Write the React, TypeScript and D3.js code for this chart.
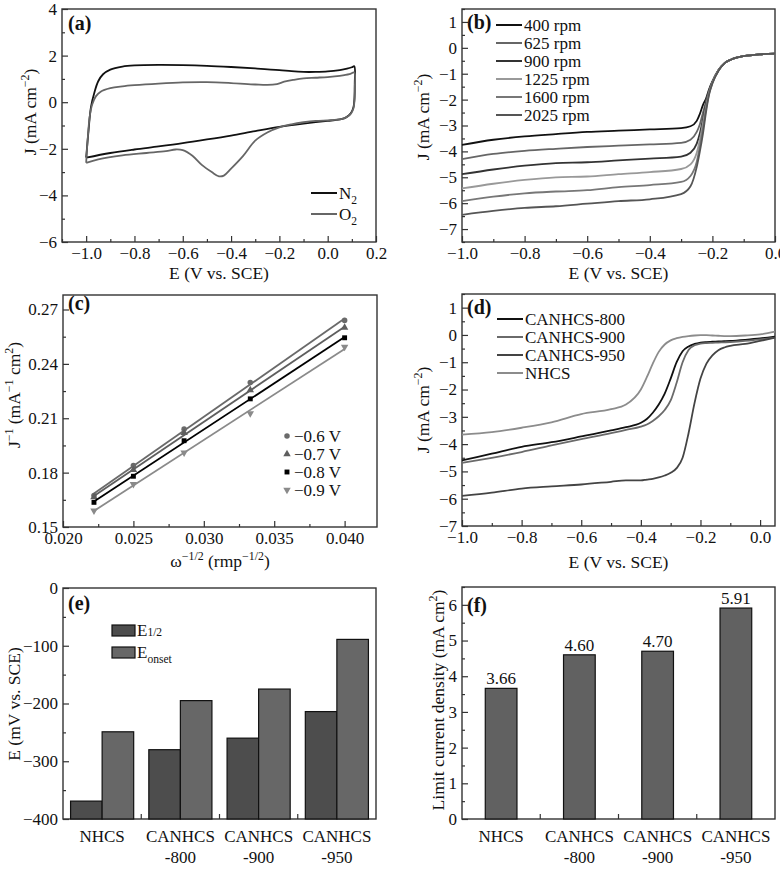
import * as d3 from "d3";
import { useEffect, useRef } from "react";

const FONT = "'Liberation Serif', 'Times New Roman', serif";

// (a) cyclic voltammograms, [E, J] in sweep order
const cvN2 = [
  [-1.0, -2.38], [-0.99, -1.2], [-0.98, -0.2], [-0.965, 0.45], [-0.95, 0.9], [-0.93, 1.2], [-0.9, 1.4],
  [-0.85, 1.53], [-0.8, 1.58], [-0.7, 1.6], [-0.6, 1.59], [-0.5, 1.56], [-0.4, 1.51], [-0.3, 1.45],
  [-0.2, 1.38], [-0.15, 1.33], [-0.1, 1.3], [-0.05, 1.3], [0.0, 1.32], [0.05, 1.38], [0.08, 1.44],
  [0.1, 1.5], [0.11, 1.54], [0.112, 0.8], [0.111, 0.2], [0.107, -0.2], [0.097, -0.45], [0.08, -0.62],
  [0.06, -0.72], [0.03, -0.77], [0.0, -0.8], [-0.1, -0.92], [-0.2, -1.06], [-0.3, -1.24], [-0.4, -1.43],
  [-0.5, -1.6], [-0.6, -1.76], [-0.7, -1.9], [-0.8, -2.03], [-0.9, -2.18], [-1.0, -2.38],
];
const cvO2 = [
  [-1.0, -2.6], [-0.993, -1.5], [-0.985, -0.6], [-0.975, -0.1], [-0.96, 0.25], [-0.94, 0.45], [-0.9, 0.6],
  [-0.85, 0.68], [-0.8, 0.73], [-0.7, 0.8], [-0.6, 0.85], [-0.5, 0.86], [-0.4, 0.82], [-0.3, 0.76],
  [-0.25, 0.74], [-0.21, 0.78], [-0.18, 0.88], [-0.14, 0.96], [-0.1, 1.02], [-0.05, 1.05], [0.0, 1.08],
  [0.05, 1.13], [0.09, 1.2], [0.11, 1.27], [0.112, 0.6], [0.111, 0.1], [0.107, -0.25], [0.097, -0.48],
  [0.08, -0.63], [0.06, -0.72], [0.03, -0.76], [0.0, -0.78], [-0.05, -0.8], [-0.1, -0.86], [-0.15, -0.95],
  [-0.2, -1.08], [-0.25, -1.3], [-0.3, -1.65], [-0.35, -2.3], [-0.4, -2.85], [-0.43, -3.15], [-0.45, -3.18],
  [-0.48, -3.0], [-0.52, -2.7], [-0.56, -2.3], [-0.6, -2.06], [-0.63, -2.03], [-0.67, -2.1], [-0.75, -2.18],
  [-0.85, -2.28], [-0.95, -2.45], [-1.0, -2.6],
];

// (b) LSV at different rotation rates
const lsvE = [-1.0, -0.9, -0.8, -0.7, -0.6, -0.5, -0.4, -0.3, -0.27, -0.25, -0.24, -0.23, -0.22, -0.21, -0.2, -0.18, -0.16, -0.14, -0.12, -0.1, -0.05, 0.0];
const rpm400 = [-3.75, -3.55, -3.42, -3.33, -3.25, -3.2, -3.15, -3.1, -3.03, -2.82, -2.55, -2.2, -1.95, -1.58, -1.3, -0.85, -0.58, -0.45, -0.37, -0.32, -0.25, -0.22];
const rpm625 = [-4.3, -4.1, -3.98, -3.9, -3.83, -3.78, -3.73, -3.67, -3.55, -3.25, -2.95, -2.5, -2.05, -1.62, -1.31, -0.85, -0.58, -0.45, -0.37, -0.32, -0.25, -0.22];
const rpm900 = [-4.88, -4.7, -4.55, -4.45, -4.42, -4.35, -4.28, -4.2, -4.05, -3.7, -3.3, -2.75, -2.15, -1.66, -1.32, -0.86, -0.58, -0.45, -0.37, -0.32, -0.25, -0.22];
const rpm1225 = [-5.43, -5.25, -5.1, -5.0, -4.97, -4.88, -4.8, -4.68, -4.5, -4.05, -3.55, -2.9, -2.25, -1.7, -1.34, -0.86, -0.58, -0.45, -0.37, -0.32, -0.25, -0.22];
const rpm1600 = [-5.92, -5.75, -5.62, -5.55, -5.5, -5.38, -5.3, -5.18, -4.95, -4.4, -3.8, -3.1, -2.35, -1.74, -1.36, -0.87, -0.58, -0.45, -0.37, -0.32, -0.25, -0.22];
const rpm2025 = [-6.45, -6.3, -6.18, -6.12, -6.02, -5.92, -5.85, -5.65, -5.35, -4.6, -4.0, -3.3, -2.45, -1.78, -1.38, -0.88, -0.58, -0.45, -0.37, -0.32, -0.25, -0.22];
const rpmLabels = ["400 rpm", "625 rpm", "900 rpm", "1225 rpm", "1600 rpm", "2025 rpm"];

// (c) Koutecky-Levich points
const klX = [0.0222, 0.025, 0.0286, 0.0333, 0.04];
const kl06 = [0.1674, 0.1839, 0.204, 0.2297, 0.264];
const kl07 = [0.1665, 0.1815, 0.202, 0.2255, 0.26];
const kl08 = [0.1636, 0.178, 0.1976, 0.2207, 0.2544];
const kl09 = [0.159, 0.1736, 0.191, 0.2127, 0.2493];
const klLabels = ["\u22120.6 V", "\u22120.7 V", "\u22120.8 V", "\u22120.9 V"];

// (d) LSV of the samples
const ldE = [-1.0, -0.9, -0.8, -0.7, -0.6, -0.5, -0.45, -0.4, -0.38, -0.36, -0.34, -0.32, -0.3, -0.28, -0.26, -0.24, -0.22, -0.2, -0.18, -0.16, -0.14, -0.12, -0.1, -0.05, 0.0, 0.05];
const ld800 = [-4.6, -4.35, -4.1, -3.93, -3.72, -3.5, -3.38, -3.22, -3.08, -2.85, -2.55, -2.15, -1.6, -1.0, -0.6, -0.42, -0.33, -0.28, -0.26, -0.25, -0.24, -0.23, -0.22, -0.18, -0.13, -0.06];
const ld900 = [-4.69, -4.5, -4.29, -4.05, -3.82, -3.6, -3.48, -3.36, -3.28, -3.15, -2.98, -2.75, -2.4, -1.75, -1.0, -0.55, -0.38, -0.32, -0.3, -0.29, -0.28, -0.27, -0.26, -0.22, -0.16, -0.1];
const ld950 = [-5.9, -5.78, -5.63, -5.55, -5.48, -5.38, -5.33, -5.33, -5.3, -5.27, -5.22, -5.15, -5.05, -4.88, -4.5, -3.6, -2.5, -1.6, -1.05, -0.75, -0.56, -0.46, -0.4, -0.33, -0.22, -0.1];
const ldNHCS = [-3.65, -3.56, -3.4, -3.2, -2.9, -2.72, -2.55, -2.0, -1.55, -1.05, -0.62, -0.35, -0.2, -0.12, -0.07, -0.04, -0.02, -0.01, -0.01, -0.02, -0.03, -0.04, -0.04, -0.02, 0.02, 0.12];
const ldLabels = ["CANHCS-800", "CANHCS-900", "CANHCS-950", "NHCS"];

// (e) and (f)
const samples = ["NHCS", "CANHCS-800", "CANHCS-900", "CANHCS-950"];
const eHalf = [-369, -280, -260, -214];
const eOnset = [-249, -195, -175, -89];
const limitJ = [3.66, 4.6, 4.7, 5.91];

function rich(text, parts, size) {
  let shift = 0;
  parts.forEach(([s, k]) => {
    const target = k === "sup" ? -0.38 * size : k === "sub" ? 0.3 * size : 0;
    const fs = k ? 0.68 * size : size;
    text.append("tspan").attr("dy", target - shift).attr("font-size", fs).text(s);
    shift = target;
  });
}

function steps(a, b, s) {
  const out = [];
  for (let v = a; v <= b + s * 1e-3; v += s) out.push(+v.toFixed(6));
  return out;
}

function frame(svg, x, y, o) {
  const [x0, x1] = x.range();
  const [y1, y0] = y.range();
  const g = svg.append("g").attr("font-family", FONT);
  const style = (s) => {
    s.select(".domain").remove();
    s.attr("font-family", FONT).attr("font-size", 17);
    s.selectAll("line").attr("stroke", "#333").attr("stroke-width", 1.2);
    s.selectAll("text").attr("fill", "#111");
  };
  const isMajor = (list) => (v) => !list.some((m) => Math.abs(m - v) < 1e-9);
  if (o.xMajor) {
    g.append("g").attr("transform", `translate(0,${y1})`)
      .call(d3.axisBottom(x).tickValues(o.xMinor.filter(isMajor(o.xMajor))).tickFormat(() => "").tickSizeInner(-3).tickSizeOuter(0))
      .call(style);
    g.append("g").attr("transform", `translate(0,${y1})`)
      .call(d3.axisBottom(x).tickValues(o.xMajor).tickFormat(o.xFmt).tickSizeInner(-6).tickSizeOuter(0).tickPadding(5))
      .call(style);
  }
  g.append("g").attr("transform", `translate(${x0},0)`)
    .call(d3.axisLeft(y).tickValues(o.yMinor.filter(isMajor(o.yMajor))).tickFormat(() => "").tickSizeInner(-3).tickSizeOuter(0))
    .call(style);
  g.append("g").attr("transform", `translate(${x0},0)`)
    .call(d3.axisLeft(y).tickValues(o.yMajor).tickFormat(o.yFmt).tickSizeInner(-6).tickSizeOuter(0).tickPadding(5))
    .call(style);
  g.append("rect").attr("x", x0).attr("y", y0).attr("width", x1 - x0).attr("height", y1 - y0)
    .attr("fill", "none").attr("stroke", "#333").attr("stroke-width", 1.4);
  // panel letter
  g.append("text").attr("x", o.tag[1]).attr("y", o.tag[2]).attr("font-size", 20).attr("font-weight", "bold")
    .attr("fill", "#111").text(o.tag[0]);
  // axis titles
  if (o.xTitle) {
    const t = g.append("text").attr("x", (x0 + x1) / 2).attr("y", o.xTitleY).attr("text-anchor", "middle")
      .attr("font-size", 17.5).attr("fill", "#111");
    rich(t, o.xTitle, 17.5);
  }
  const t = g.append("text").attr("transform", `translate(${o.yTitleX},${o.yTitleMid}) rotate(-90)`)
    .attr("text-anchor", "middle").attr("font-size", 17.5).attr("fill", "#111");
  rich(t, o.yTitle, 17.5);
  return g;
}

function lineLegend(svg, items, colors, x0, y0, dy, parts) {
  items.forEach((lab, i) => {
    const yy = y0 + i * dy;
    svg.append("line").attr("x1", x0).attr("x2", x0 + 26).attr("y1", yy).attr("y2", yy)
      .attr("stroke", colors[i]).attr("stroke-width", 2);
    const t = svg.append("text").attr("x", x0 + 28).attr("y", yy + 6).attr("font-family", FONT)
      .attr("font-size", 17).attr("fill", "#111");
    rich(t, parts ? parts[i] : [[lab, ""]], 17);
  });
}

const jTitle = [["J (mA cm", ""], ["\u22122", "sup"], [")", ""]];
const eTitle = [["E (V vs. SCE)", ""]];

export default function App() {
  const svgRef = useRef(null);

  useEffect(() => {
    document.body.style.margin = "0";
    const svg = d3.select(svgRef.current);
    svg.selectAll("*").remove();

    // ---------- (a) ----------
    const xa = d3.scaleLinear().domain([-1.1, 0.2]).range([62, 376]);
    const ya = d3.scaleLinear().domain([-6, 4]).range([242, 9]);
    frame(svg, xa, ya, {
      xMajor: steps(-1.0, 0.2, 0.2), xMinor: steps(-1.1, 0.2, 0.1), xFmt: d3.format(".1f"),
      yMajor: steps(-6, 4, 2), yMinor: steps(-6, 4, 1), yFmt: d3.format("d"),
      tag: ["(a)", 68, 30], xTitle: eTitle, xTitleY: 279, yTitle: jTitle, yTitleX: 36, yTitleMid: 112,
    });
    const lineA = d3.line().x((d) => xa(d[0])).y((d) => ya(d[1])).curve(d3.curveCatmullRom.alpha(0.5));
    [[cvN2, "#111"], [cvO2, "#666"]].forEach(([data, c]) => {
      svg.append("path").attr("d", lineA(data)).attr("fill", "none").attr("stroke", c).attr("stroke-width", 1.8);
    });
    lineLegend(svg, ["N2", "O2"], ["#111", "#666"], 311, 193, 21, [[["N", ""], ["2", "sub"]], [["O", ""], ["2", "sub"]]]);

    // ---------- (b) ----------
    const xb = d3.scaleLinear().domain([-1.0, 0.0]).range([462, 775]);
    const yb = d3.scaleLinear().domain([-7.5, 1.5]).range([242, 9]);
    frame(svg, xb, yb, {
      xMajor: steps(-1.0, 0.0, 0.2), xMinor: steps(-1.0, 0.0, 0.1), xFmt: d3.format(".1f"),
      yMajor: steps(-7, 1, 1), yMinor: steps(-7.5, 1.5, 0.5), yFmt: d3.format("d"),
      tag: ["(b)", 467, 29], xTitle: eTitle, xTitleY: 279, yTitle: jTitle, yTitleX: 429, yTitleMid: 117,
    });
    const rpmSeries = [rpm400, rpm625, rpm900, rpm1225, rpm1600, rpm2025];
    const rpmColors = ["#111", "#666", "#333", "#999", "#777", "#555"];
    const lineB = d3.line().x((d) => xb(d[0])).y((d) => yb(d[1])).curve(d3.curveMonotoneX);
    rpmSeries.forEach((s, i) => {
      svg.append("path").attr("d", lineB(lsvE.map((e, k) => [e, s[k]]))).attr("fill", "none")
        .attr("stroke", rpmColors[i]).attr("stroke-width", 1.8);
    });
    lineLegend(svg, rpmLabels, rpmColors, 496, 25, 18);

    // ---------- (c) ----------
    const xc = d3.scaleLinear().domain([0.02, 0.0423]).range([63, 377]);
    const yc = d3.scaleLinear().domain([0.15, 0.278]).range([527, 295]);
    frame(svg, xc, yc, {
      xMajor: steps(0.02, 0.04, 0.005), xMinor: steps(0.02, 0.0423, 0.0025), xFmt: d3.format(".3f"),
      yMajor: steps(0.15, 0.27, 0.03), yMinor: steps(0.15, 0.278, 0.015), yFmt: d3.format(".2f"),
      tag: ["(c)", 68, 310],
      xTitle: [["\u03c9", ""], ["\u22121/2", "sup"], [" (rmp", ""], ["\u22121/2", "sup"], [")", ""]], xTitleY: 567,
      yTitle: [["J", ""], ["\u22121", "sup"], [" (mA", ""], ["\u22121", "sup"], [" cm", ""], ["2", "sup"], [")", ""]],
      yTitleX: 20, yTitleMid: 395,
    });
    const klSeries = [kl06, kl07, kl08, kl09];
    const klColors = ["#6a6a6a", "#5e5e5e", "#000", "#8a8a8a"];
    const klSym = [d3.symbolCircle, d3.symbolTriangle, d3.symbolSquare, d3.symbolTriangle];
    const klRot = [0, 0, 0, 180];
    klSeries.forEach((s, i) => {
      const mx = d3.mean(klX), my = d3.mean(s);
      const slope = d3.sum(klX, (v, k) => (v - mx) * (s[k] - my)) / d3.sum(klX, (v) => (v - mx) ** 2);
      const ends = [klX[0], klX[klX.length - 1]];
      svg.append("line").attr("x1", xc(ends[0])).attr("y1", yc(my + slope * (ends[0] - mx)))
        .attr("x2", xc(ends[1])).attr("y2", yc(my + slope * (ends[1] - mx)))
        .attr("stroke", klColors[i]).attr("stroke-width", 1.8);
      const sym = d3.symbol().type(klSym[i]).size(24);
      svg.append("g").selectAll("path").data(klX).join("path")
        .attr("d", sym)
        .attr("transform", (v, k) => `translate(${xc(v)},${yc(s[k])}) rotate(${klRot[i]})`)
        .attr("fill", klColors[i]);
      // legend
      const ly = 436 + i * 18;
      svg.append("path").attr("d", sym).attr("transform", `translate(287,${ly}) rotate(${klRot[i]})`).attr("fill", klColors[i]);
      svg.append("text").attr("x", 294).attr("y", ly + 6).attr("font-family", FONT).attr("font-size", 17)
        .attr("fill", "#111").text(klLabels[i]);
    });

    // ---------- (d) ----------
    const xd = d3.scaleLinear().domain([-1.0, 0.05]).range([462, 775]);
    const yd = d3.scaleLinear().domain([-7, 1.5]).range([526, 294]);
    frame(svg, xd, yd, {
      xMajor: steps(-1.0, 0.0, 0.2), xMinor: steps(-1.0, 0.05, 0.1), xFmt: d3.format(".1f"),
      yMajor: steps(-7, 1, 1), yMinor: steps(-7, 1.5, 0.5), yFmt: d3.format("d"),
      tag: ["(d)", 467, 314], xTitle: eTitle, xTitleY: 568, yTitle: jTitle, yTitleX: 429, yTitleMid: 410,
    });
    const ldSeries = [ld800, ld900, ld950, ldNHCS];
    const ldColors = ["#111", "#6a6a6a", "#444", "#8c8c8c"];
    const lineD = d3.line().x((d) => xd(d[0])).y((d) => yd(d[1])).curve(d3.curveMonotoneX);
    ldSeries.forEach((s, i) => {
      svg.append("path").attr("d", lineD(ldE.map((e, k) => [e, s[k]]))).attr("fill", "none")
        .attr("stroke", ldColors[i]).attr("stroke-width", 1.8);
    });
    lineLegend(svg, ldLabels, ldColors, 497, 319, 18);

    // ---------- (e) ----------
    const xe = d3.scaleBand().domain(samples).range([63, 376]);
    const xe1 = d3.scaleBand().domain(["half", "onset"]).range([0, xe.bandwidth()]).paddingOuter(0.24);
    const ye = d3.scaleLinear().domain([-400, 0]).range([819, 588]);
    const ge = frame(svg, xe, ye, {
      yMajor: steps(-400, 0, 100), yMinor: steps(-400, 0, 50), yFmt: d3.format("d"),
      tag: ["(e)", 68, 610], yTitle: [["E (mV vs. SCE)", ""]], yTitleX: 20, yTitleMid: 704,
    });
    const eColors = { half: "#4d4d4d", onset: "#676767" };
    samples.forEach((s, i) => {
      [["half", eHalf[i]], ["onset", eOnset[i]]].forEach(([k, v]) => {
        ge.append("rect").attr("x", xe(s) + xe1(k)).attr("width", xe1.bandwidth())
          .attr("y", ye(v)).attr("height", ye(-400) - ye(v))
          .attr("fill", eColors[k]).attr("stroke", "#111").attr("stroke-width", 1.2);
      });
    });
    // legend
    [["half", [["E", ""], ["1/2", "small"]]], ["onset", [["E", ""], ["onset", "sub"]]]].forEach(([k, parts], i) => {
      const ly = 625 + i * 22;
      svg.append("rect").attr("x", 112).attr("y", ly).attr("width", 23).attr("height", 11)
        .attr("fill", eColors[k]).attr("stroke", "#111").attr("stroke-width", 1.2);
      const t = svg.append("text").attr("x", 137).attr("y", ly + 11).attr("font-family", FONT)
        .attr("font-size", 17).attr("fill", "#111");
      rich(t, parts, 17);
    });

    // ---------- (f) ----------
    const xf = d3.scaleBand().domain(samples).range([462, 775]).paddingInner(0.595).paddingOuter(0.2975);
    const yf = d3.scaleLinear().domain([0, 6.5]).range([819, 587]);
    const gf = frame(svg, xf, yf, {
      yMajor: steps(0, 6, 1), yMinor: steps(0, 6.5, 0.5), yFmt: d3.format("d"),
      tag: ["(f)", 467, 612],
      yTitle: [["Limit current density (mA cm", ""], ["2", "sup"], [")", ""]], yTitleX: 444, yTitleMid: 700,
    });
    samples.forEach((s, i) => {
      gf.append("rect").attr("x", xf(s)).attr("width", xf.bandwidth()).attr("y", yf(limitJ[i]))
        .attr("height", yf(0) - yf(limitJ[i])).attr("fill", "#616161").attr("stroke", "#111").attr("stroke-width", 1.2);
      gf.append("text").attr("x", xf(s) + xf.bandwidth() / 2).attr("y", yf(limitJ[i]) - 4)
        .attr("text-anchor", "middle").attr("font-size", 17).attr("fill", "#111").text(d3.format(".2f")(limitJ[i]));
    });

    // category axes for (e) and (f)
    [[xe, ye, ge], [xf, yf, gf]].forEach(([x, y, g]) => {
      const base = y.range()[0];
      const step = x.step();
      const r0 = x.range()[0];
      samples.slice(1).forEach((s, i) => {
        const bx = r0 + step * (i + 1);
        g.append("line").attr("x1", bx).attr("x2", bx).attr("y1", base).attr("y2", base - 5)
          .attr("stroke", "#333").attr("stroke-width", 1.2);
      });
      samples.forEach((s) => {
        const cx = x(s) + x.bandwidth() / 2;
        const lines = s.includes("-") ? [s.split("-")[0], "-" + s.split("-")[1]] : [s];
        lines.forEach((l, k) => {
          g.append("text").attr("x", cx).attr("y", 842 + k * 21).attr("text-anchor", "middle")
            .attr("font-size", 17).attr("fill", "#111").text(l);
        });
      });
    });
  }, []);

  return <svg ref={svgRef} width={780} height={869} style={{ display: "block", background: "#fff" }} />;
}
